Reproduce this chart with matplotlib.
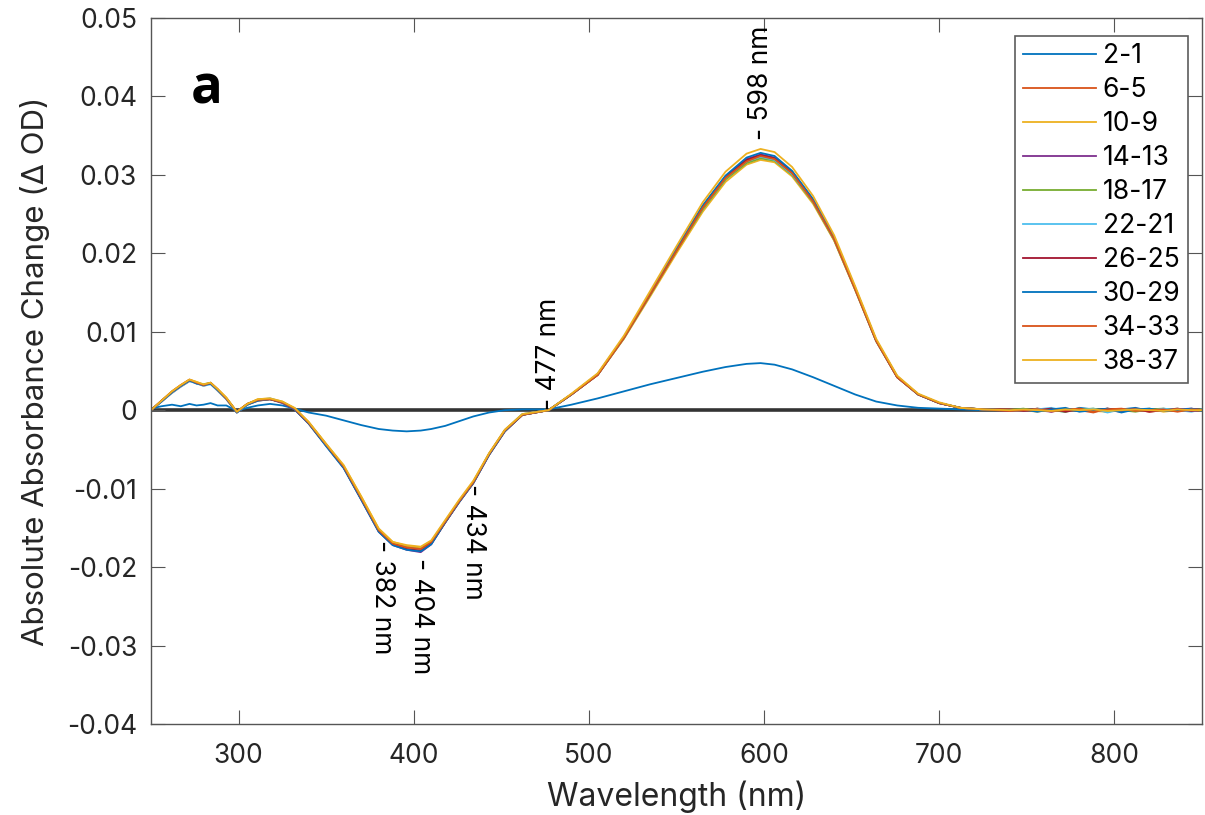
import matplotlib
matplotlib.use("Agg")
import matplotlib.pyplot as plt
import numpy as np

plt.rcParams['font.family'] = ['Inter', 'DejaVu Sans']
plt.rcParams['axes.unicode_minus'] = False

# wavelength grid (nm) shared by all difference spectra
wavelength = [250, 256, 262, 267, 272, 276, 280, 284, 288, 293,
              299, 305, 311, 318, 325, 332, 340, 350, 360, 370,
              380, 388, 396, 404, 410, 418, 426, 434, 443, 452,
              462, 477, 490, 505, 520, 535, 550, 565, 578, 590,
              598, 606, 616, 628, 640, 652, 664, 676, 688, 700,
              712, 725, 740, 748, 756, 764, 772, 780, 788, 796,
              804, 812, 820, 828, 836, 844, 850]

# absorbance differences in mOD
s2_1 = [0.2, 0.5, 0.7, 0.5, 0.8, 0.6, 0.7, 0.9, 0.6, 0.6,
        -0.1, 0.3, 0.6, 0.8, 0.6, 0.2, -0.3, -0.7, -1.3, -1.9,
        -2.4, -2.6, -2.7, -2.6, -2.4, -2.0, -1.4, -0.8, -0.3, 0.0,
        0.1, 0.1, 0.7, 1.5, 2.4, 3.3, 4.1, 4.9, 5.5, 5.9,
        6.0, 5.8, 5.2, 4.2, 3.1, 2.0, 1.1, 0.6, 0.3, 0.2,
        0.1, 0.0, 0.1, -0.1, 0.2, 0.0, -0.2, 0.3, 0.1, -0.2,
        0.1, 0.3, -0.1, 0.0, 0.2, -0.1, 0.1]
s6_5 = [0.0, 1.1, 2.2, 3.0, 3.7, 3.5, 3.1, 3.4, 2.5, 1.4,
        -0.3, 0.7, 1.2, 1.4, 1.0, 0.1, -1.7, -4.5, -7.3, -11.3,
        -15.4, -17.1, -17.6, -17.9, -17.0, -14.3, -11.7, -9.3, -5.7, -2.7,
        -0.6, 0.0, 2.0, 4.5, 9.2, 14.7, 20.3, 25.7, 29.5, 31.8,
        32.3, 32.0, 30.1, 26.5, 21.7, 15.4, 8.9, 4.3, 2.0, 0.9,
        0.3, 0.1, 0.0, -0.1, 0.2, -0.2, 0.1, 0.0, -0.3, 0.2,
        -0.1, 0.1, -0.2, 0.0, 0.2, -0.1, 0.0]
s10_9 = [0.0, 1.2, 2.4, 3.2, 3.9, 3.6, 3.2, 3.5, 2.7, 1.6,
         -0.2, 0.8, 1.4, 1.5, 1.1, 0.2, -1.5, -4.3, -7.1, -11.0,
         -15.1, -16.8, -17.3, -17.5, -16.7, -14.1, -11.5, -9.1, -5.5, -2.5,
         -0.5, 0.0, 2.0, 4.5, 9.1, 14.5, 20.0, 25.3, 29.1, 31.3,
         31.9, 31.6, 29.8, 26.3, 21.6, 15.3, 8.8, 4.2, 2.0, 0.9,
         0.3, 0.1, 0.1, 0.0, -0.2, 0.1, 0.0, 0.2, -0.1, -0.2,
         0.1, 0.0, 0.2, -0.2, 0.0, 0.1, -0.1]
s14_13 = [0.0, 1.1, 2.3, 3.1, 3.8, 3.4, 3.2, 3.4, 2.6, 1.5,
          -0.3, 0.7, 1.3, 1.4, 0.9, 0.1, -1.7, -4.5, -7.3, -11.4,
          -15.5, -17.2, -17.8, -18.1, -17.1, -14.3, -11.7, -9.3, -5.7, -2.7,
          -0.6, 0.0, 2.0, 4.6, 9.3, 14.9, 20.5, 26.0, 29.8, 32.0,
          32.6, 32.2, 30.4, 26.8, 22.0, 15.6, 8.9, 4.2, 2.0, 0.9,
          0.3, 0.1, -0.1, 0.1, 0.0, -0.2, 0.2, -0.1, 0.1, 0.0,
          -0.2, 0.2, 0.0, -0.1, 0.1, 0.2, 0.0]
s18_17 = [0.0, 1.2, 2.3, 3.1, 3.8, 3.5, 3.3, 3.5, 2.6, 1.5,
          -0.2, 0.8, 1.3, 1.4, 1.0, 0.2, -1.6, -4.4, -7.2, -11.2,
          -15.3, -17.0, -17.5, -17.7, -16.8, -14.2, -11.6, -9.2, -5.6, -2.6,
          -0.6, 0.0, 2.0, 4.5, 9.2, 14.7, 20.3, 25.6, 29.4, 31.5,
          32.1, 31.8, 30.0, 26.5, 21.7, 15.4, 8.8, 4.2, 2.0, 0.9,
          0.3, 0.1, 0.0, 0.2, -0.1, 0.0, -0.2, 0.1, 0.2, -0.1,
          0.0, -0.2, 0.1, 0.2, -0.1, 0.0, 0.1]
s22_21 = [0.0, 1.1, 2.2, 3.0, 3.7, 3.4, 3.1, 3.3, 2.5, 1.4,
          -0.3, 0.7, 1.3, 1.5, 1.0, 0.2, -1.6, -4.4, -7.2, -11.3,
          -15.4, -17.1, -17.6, -17.8, -16.9, -14.2, -11.6, -9.2, -5.6, -2.6,
          -0.5, 0.0, 2.0, 4.5, 9.2, 14.8, 20.4, 25.8, 29.6, 31.7,
          32.3, 31.9, 30.1, 26.6, 21.8, 15.4, 8.8, 4.2, 2.0, 0.9,
          0.3, 0.1, 0.0, -0.1, 0.1, 0.3, -0.1, 0.0, 0.2, -0.3,
          0.1, 0.0, -0.1, 0.2, 0.0, -0.2, 0.1]
s26_25 = [0.0, 1.2, 2.3, 3.1, 3.8, 3.5, 3.2, 3.4, 2.6, 1.5,
          -0.2, 0.8, 1.3, 1.4, 1.0, 0.2, -1.6, -4.5, -7.3, -11.3,
          -15.4, -17.1, -17.7, -17.9, -17.0, -14.3, -11.6, -9.2, -5.6, -2.6,
          -0.6, 0.0, 2.0, 4.5, 9.3, 14.8, 20.4, 25.9, 29.7, 31.9,
          32.5, 32.1, 30.3, 26.7, 21.9, 15.5, 8.9, 4.2, 2.0, 0.9,
          0.3, 0.1, 0.1, -0.1, 0.0, 0.2, -0.2, 0.1, -0.1, 0.2,
          0.0, 0.1, -0.2, 0.0, 0.1, -0.1, 0.0]
s30_29 = [0.0, 1.1, 2.3, 3.1, 3.8, 3.4, 3.2, 3.4, 2.6, 1.5,
          -0.3, 0.7, 1.2, 1.4, 1.0, 0.1, -1.7, -4.6, -7.4, -11.4,
          -15.5, -17.2, -17.8, -18.0, -17.1, -14.3, -11.7, -9.3, -5.7, -2.7,
          -0.6, 0.0, 2.0, 4.6, 9.3, 14.9, 20.6, 26.1, 29.9, 32.2,
          32.8, 32.4, 30.5, 26.9, 22.0, 15.6, 8.9, 4.3, 2.0, 0.9,
          0.3, 0.1, 0.0, 0.1, -0.2, 0.1, 0.3, -0.2, 0.0, 0.2,
          -0.3, 0.1, 0.2, -0.1, 0.0, 0.2, -0.1]
s34_33 = [0.0, 1.2, 2.4, 3.2, 3.9, 3.5, 3.2, 3.5, 2.7, 1.5,
          -0.2, 0.8, 1.3, 1.4, 1.0, 0.2, -1.6, -4.4, -7.2, -11.2,
          -15.3, -17.0, -17.5, -17.7, -16.8, -14.2, -11.6, -9.2, -5.6, -2.6,
          -0.6, 0.0, 2.0, 4.5, 9.2, 14.8, 20.3, 25.8, 29.6, 31.7,
          32.4, 32.0, 30.2, 26.6, 21.8, 15.4, 8.8, 4.2, 2.0, 0.9,
          0.3, 0.1, -0.1, 0.0, 0.1, -0.1, 0.0, 0.2, -0.2, 0.1,
          0.2, -0.1, 0.0, 0.1, -0.2, 0.1, 0.0]
s38_37 = [0.0, 1.2, 2.4, 3.2, 3.9, 3.6, 3.3, 3.5, 2.7, 1.6,
          -0.2, 0.8, 1.4, 1.5, 1.1, 0.3, -1.5, -4.3, -7.0, -11.0,
          -15.1, -16.8, -17.2, -17.4, -16.6, -14.0, -11.4, -9.0, -5.5, -2.5,
          -0.5, 0.0, 2.1, 4.7, 9.5, 15.2, 20.9, 26.5, 30.4, 32.7,
          33.3, 32.9, 31.0, 27.3, 22.3, 15.8, 9.1, 4.4, 2.1, 1.0,
          0.3, 0.1, 0.0, 0.1, 0.0, -0.1, 0.1, 0.0, 0.1, -0.1,
          0.0, 0.1, 0.0, -0.1, 0.1, 0.0, 0.0]

labels = ['2-1', '6-5', '10-9', '14-13', '18-17',
          '22-21', '26-25', '30-29', '34-33', '38-37']
series = [s2_1, s6_5, s10_9, s14_13, s18_17,
          s22_21, s26_25, s30_29, s34_33, s38_37]
colors = ['#0072BD', '#D95319', '#EDB120', '#7E2F8E', '#77AC30',
          '#4DBEEE', '#A2142F', '#0072BD', '#D95319', '#EDB120']

# marked wavelengths (nm), marker height (mOD), text direction
mark_wl = [382, 404, 434, 477, 598]
mark_od = [-16.6, -18.9, -9.4, 0.0, 34.4]
mark_up = [False, False, False, True, True]

yticks = [-0.04, -0.03, -0.02, -0.01, 0, 0.01, 0.02, 0.03, 0.04, 0.05]
ytick_labels = ['-0.04', '-0.03', '-0.02', '-0.01', '0',
                '0.01', '0.02', '0.03', '0.04', '0.05']
xticks = [300, 400, 500, 600, 700, 800]

text_col = '#262626'

fig = plt.figure(figsize=(12.05, 8.15), dpi=100)
ax = fig.add_axes([0.1253, 0.1117, 0.8722, 0.8663])

ax.axhline(0, color='#333333', lw=2.6, zorder=1)

wl = np.array(wavelength)
for lab, s, c in zip(labels, series, colors):
    ax.plot(wl, np.array(s) / 1000, color=c, lw=1.3, label=lab, zorder=2)

for w, od, up in zip(mark_wl, mark_od, mark_up):
    if up:
        ax.text(w, od / 1000, '- %d nm' % w, rotation=90, ha='center',
                va='bottom', fontsize=19, color='black', zorder=4)
    else:
        ax.text(w, od / 1000, '- %d nm' % w, rotation=-90, ha='center',
                va='top', fontsize=19, color='black', zorder=4)

ax.text(0.053, 0.898, 'a', transform=ax.transAxes, fontsize=38,
        fontweight='bold', family=['Open Sans', 'DejaVu Sans'],
        ha='center', va='center', color='black')

ax.set_xlim(250, 850)
ax.set_ylim(-0.04, 0.05)
ax.set_xticks(xticks)
ax.set_yticks(yticks)
ax.set_yticklabels(ytick_labels)
ax.tick_params(direction='in', length=10, width=0.8, colors='#555555',
               labelcolor=text_col, labelsize=19, top=True, right=True)
ax.tick_params(axis='x', pad=14)
ax.tick_params(axis='y', pad=10)
for sp in ax.spines.values():
    sp.set_color('#555555')
    sp.set_linewidth(1.0)

ax.set_xlabel('Wavelength (nm)', fontsize=23, color=text_col)
ax.set_ylabel('Absolute Absorbance Change (Δ OD)', fontsize=22.5,
              color=text_col)
ax.xaxis.set_label_coords(0.5, -0.08)
ax.yaxis.set_label_coords(-0.096, 0.5)

leg = ax.legend(loc='upper right', bbox_to_anchor=(0.987, 0.975), fontsize=19,
                frameon=True, fancybox=False, edgecolor='#333333',
                handlelength=2.75, handletextpad=0.25, labelspacing=0.3,
                borderpad=0.3, borderaxespad=0)
leg.get_frame().set_linewidth(1.2)
for t in leg.get_texts():
    t.set_color('black')

fig.savefig('out.png', dpi=100)
